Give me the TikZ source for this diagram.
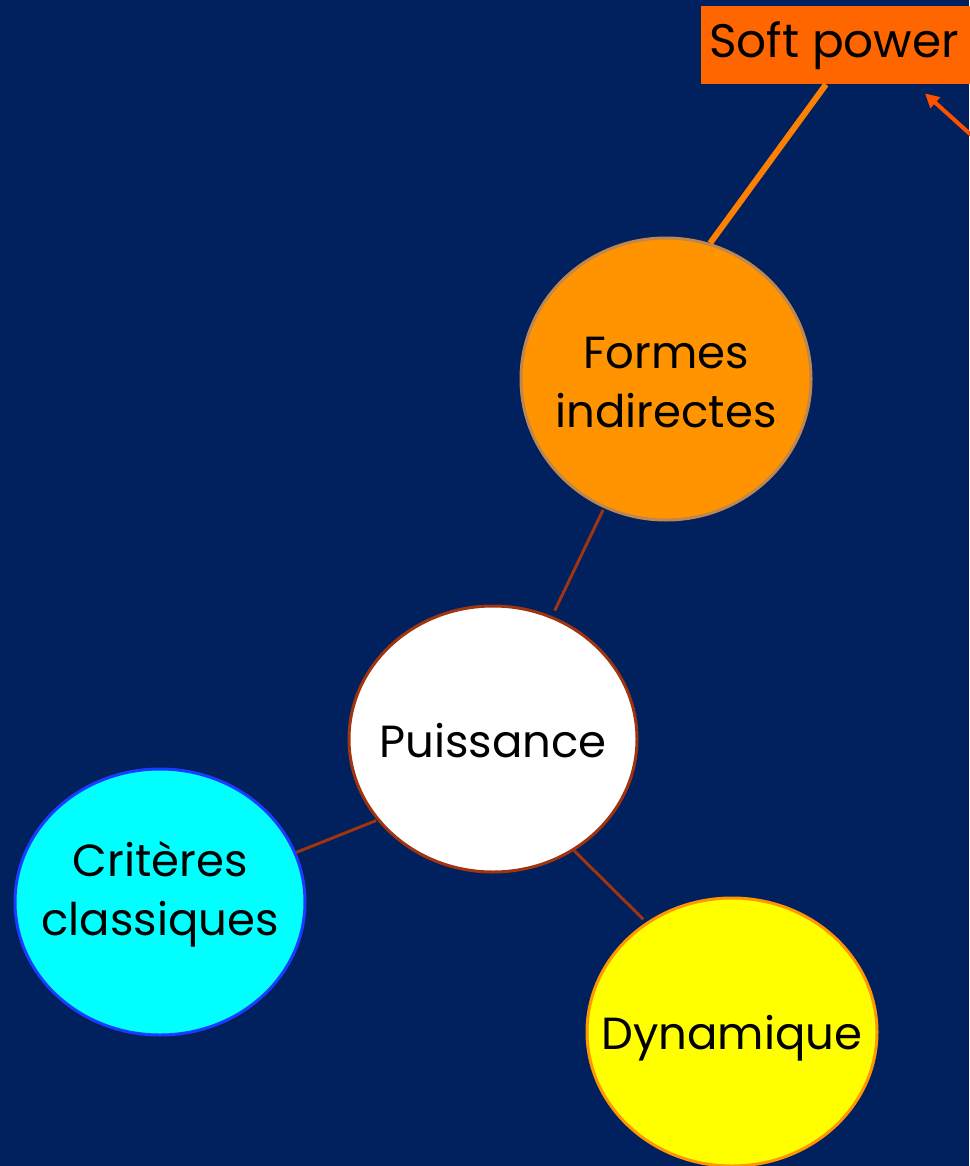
\documentclass[tikz,border=0pt]{standalone}
\usepackage{fontspec}
\setmainfont{Poppins}
\usetikzlibrary{calc,arrows.meta,shapes.geometric}
\definecolor{bg}{RGB}{0,32,94}
\definecolor{spfill}{RGB}{255,102,0}
\definecolor{spline}{RGB}{255,128,0}
\definecolor{arrcol}{RGB}{255,80,0}
\definecolor{fifill}{RGB}{255,148,0}
\definecolor{fidraw}{RGB}{190,135,80}
\definecolor{link}{RGB}{160,52,15}
\definecolor{crfill}{RGB}{0,255,255}
\definecolor{crdraw}{RGB}{26,60,255}
\definecolor{dyfill}{RGB}{255,255,0}
\definecolor{dydraw}{RGB}{255,150,0}
\tikzset{
  x=1pt, y=-1pt,
  bubble/.style={ellipse, line width=3pt, inner sep=0pt},
  bubbletext/.style={align=center, font=\fontsize{45}{59}\selectfont, text=black, inner sep=0pt},
  linkline/.style={draw=link, line width=3pt},
}
\begin{document}
\begin{tikzpicture}
\fill[bg] (0,0) rectangle (969,1166);
\useasboundingbox (0,0) rectangle (969,1166);
% Soft power box
\node[fill=spfill, minimum height=78pt, minimum width=290pt, anchor=north west, inner sep=0pt] (sp) at (701,6) {};
\node[anchor=west, font=\fontsize{47}{56}\selectfont, text=black, inner sep=0pt] (sptext) at (709,46) {Soft power};
\node[bubble, fill=fifill, draw=fidraw, minimum width=290pt, minimum height=282pt,
      label={[bubbletext, yshift=-4pt]center:Formes\\indirectes}] (fi) at (666,379) {};
\node[bubble, fill=white, draw=link, minimum width=288pt, minimum height=266pt,
      label={[bubbletext, yshift=-2pt]center:Puissance}] (pu) at (493,739) {};
\node[bubble, fill=crfill, draw=crdraw, minimum width=290pt, minimum height=266pt,
      label={[bubbletext, yshift=8pt]center:Critères\\classiques}] (cr) at (160,902) {};
\node[bubble, fill=dyfill, draw=dydraw, minimum width=290pt, minimum height=268pt,
      label={[bubbletext, yshift=-6pt]center:Dynamique}] (dy) at (732,1032) {};
% connectors
\coordinate (spfoot) at ($(sp.south west)+(125,0)$);
\draw[spline, line width=6pt] (spfoot) -- (fi.72.5);
\coordinate (arrtail) at (980,143);
\coordinate (arrtip) at ($(sp.south west)+(224,9)$);
\draw[arrcol, line width=4pt, -{Triangle[length=14pt,width=14pt]}] (arrtail) -- (arrtip);
\draw[linkline, shorten <=6pt, shorten >=2pt] (pu) -- (fi);
\draw[linkline, shorten <=1pt] (pu.215.8) -- (cr.20.6);
\draw[linkline, shorten >=4pt] (pu.306.5) -- (dy.128.5);
\end{tikzpicture}
\end{document}
